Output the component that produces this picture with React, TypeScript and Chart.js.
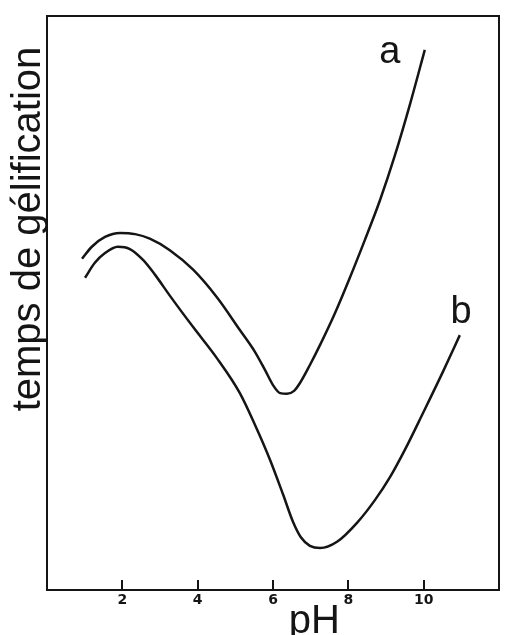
import React, { useEffect, useRef } from "react";
import { Chart, registerables } from "chart.js";

Chart.register(...registerables);

// curve a
const phA = [0.93, 1.19, 1.54, 1.94, 2.34, 2.73, 3.26, 3.88, 4.51, 5.12, 5.52, 5.79, 6.0, 6.19, 6.37, 6.56, 6.72, 6.98, 7.25, 7.65, 8.04, 8.44, 8.84, 9.24, 9.64, 10.03];
const timeA = [57.7, 59.8, 61.5, 62.2, 62.0, 61.2, 59.2, 55.8, 51.0, 45.3, 41.5, 38.3, 35.7, 34.3, 34.2, 34.7, 36.1, 39.2, 42.7, 48.3, 54.4, 61.0, 67.9, 75.8, 84.7, 94.1];
// curve b
const phB = [1.01, 1.27, 1.54, 1.88, 2.2, 2.55, 2.87, 3.27, 3.88, 4.51, 5.12, 5.52, 5.92, 6.27, 6.53, 6.74, 6.98, 7.25, 7.7, 8.23, 8.71, 9.11, 9.5, 9.98, 10.51, 10.96];
const timeB = [54.4, 57.0, 58.7, 59.8, 59.4, 57.5, 54.9, 51.2, 45.8, 40.4, 34.3, 28.8, 22.7, 16.6, 11.9, 9.2, 7.7, 7.3, 8.4, 11.7, 15.7, 19.7, 24.4, 30.8, 38.0, 44.4];

const xTicks = [2, 4, 6, 8, 10];
const xTitle = "pH";
const yTitle = "temps de gélification";
const curveNames = ["a", "b"];

const INK = "#151515";

export default function App() {
  const ref = useRef<HTMLCanvasElement>(null);

  useEffect(() => {
    if (!ref.current) return;
    const decor = {
      id: "decor",
      afterDraw(chart: any) {
        const { ctx, chartArea, scales } = chart;
        const { left, top, right, bottom } = chartArea;
        const x = scales.x;
        const y = scales.y;
        ctx.save();
        ctx.strokeStyle = INK;
        ctx.lineWidth = 2;
        ctx.strokeRect(left, top, right - left, bottom - top);
        // inward tick marks
        ctx.beginPath();
        xTicks.forEach((v) => {
          const px = Math.round(x.getPixelForValue(v));
          ctx.moveTo(px, bottom + 1);
          ctx.lineTo(px, bottom - 10);
        });
        ctx.stroke();
        ctx.fillStyle = INK;
        ctx.textAlign = "center";
        ctx.textBaseline = "alphabetic";
        ctx.font = '40px "Liberation Sans", Arial, sans-serif';
        ctx.fillText(xTitle, x.getPixelForValue(7.1), 633);
        ctx.font = '38px "Liberation Sans", Arial, sans-serif';
        ctx.fillText(curveNames[0], x.getPixelForValue(9.1), y.getPixelForValue(91.8));
        ctx.fillText(curveNames[1], x.getPixelForValue(10.99), y.getPixelForValue(46.5));
        ctx.translate(40, 229);
        ctx.rotate(-Math.PI / 2);
        ctx.font = '40px "Liberation Sans", Arial, sans-serif';
        ctx.fillText(yTitle, 0, 0);
        ctx.restore();
      },
    };

    const mk = (xs: number[], ys: number[]) => xs.map((v, i) => ({ x: v, y: ys[i] }));

    const chart = new Chart(ref.current, {
      type: "line",
      data: {
        datasets: [
          { label: curveNames[0], data: mk(phA, timeA), borderColor: INK, borderWidth: 2.5, cubicInterpolationMode: "monotone", pointRadius: 0, fill: false },
          { label: curveNames[1], data: mk(phB, timeB), borderColor: INK, borderWidth: 2.5, cubicInterpolationMode: "monotone", pointRadius: 0, fill: false },
        ],
      },
      options: {
        animation: false,
        responsive: true,
        maintainAspectRatio: false,
        layout: { padding: { left: 47, top: 16, right: 7, bottom: 0 } },
        plugins: { legend: { display: false }, tooltip: { enabled: false } },
        scales: {
          x: {
            type: "linear",
            min: 0,
            max: 12,
            afterFit: (s: any) => {
              s.height = 45;
            },
            afterBuildTicks: (s: any) => {
              s.ticks = xTicks.map((v) => ({ value: v }));
            },
            grid: { display: false, drawOnChartArea: false, drawTicks: false },
            border: { display: false },
            ticks: { color: INK, font: { size: 14, weight: "bold", family: '"DejaVu Sans", sans-serif' }, padding: 2, maxRotation: 0 },
          },
          y: { type: "linear", min: 0, max: 100, display: false },
        },
      } as any,
      plugins: [decor],
    });
    return () => chart.destroy();
  }, []);

  return (
    <div style={{ position: "fixed", left: 0, top: 0, width: 506, height: 635, background: "#fff" }}>
      <canvas ref={ref} />
    </div>
  );
}
